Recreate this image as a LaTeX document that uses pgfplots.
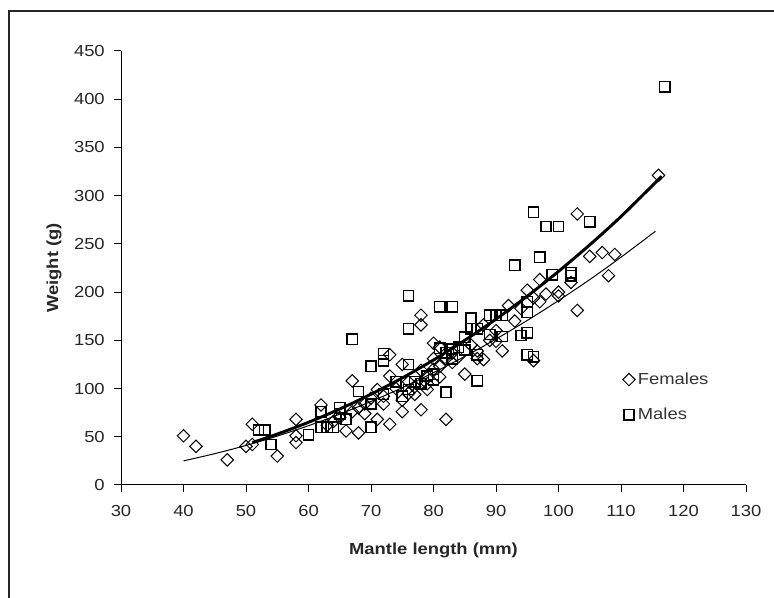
\documentclass[border=0pt]{standalone}
\usepackage{fontspec}
\setmainfont{Liberation Sans}[FakeStretch=1.15]
\usepackage{pgfplots}
\pgfplotsset{compat=1.18}
\begin{document}
\fontsize{12pt}{14pt}\selectfont
\begin{tikzpicture}
\path[use as bounding box] (0,0) rectangle (580.5pt,448.5pt);
\draw[black!85, line width=0.8pt] (6.75pt,0) -- (6.75pt,440.25pt) -- (580.5pt,440.25pt);
\begin{axis}[
    at={(90.75pt,84.75pt)}, anchor=origin,
    scale only axis,
    width=468.75pt, height=325.5pt,
    xmin=30, xmax=130, ymin=0, ymax=450,
    xtick={30,40,...,130}, ytick={0,50,...,450},
    axis lines=left,
    axis line style={-, line width=0.75pt},
    tick align=outside,
    major tick length=5pt,
    tick style={black, line width=0.75pt},
    /pgf/number format/assume math mode=true,
    ticklabel style={font=\fontsize{12pt}{14pt}\selectfont, text=black!85},
    xticklabel style={yshift=-6pt},
    yticklabel style={xshift=-3pt},
    xlabel={\bfseries Mantle length (mm)},
    ylabel={\bfseries Weight (g)},
    xlabel style={at={(axis description cs:0.5,-0.150)}, anchor=center, text=black!85},
    ylabel style={at={(axis description cs:-0.107,0.5)}, anchor=center, rotate=0, text=black!85},
    legend style={at={(axis description cs:0.796,0.272)}, anchor=north west,
        draw=none, fill=none, row sep=12pt, font=\fontsize{12pt}{14pt}\selectfont,
        text=black!80},
    legend cell align=left,
    clip=false,
]
% females (diamonds)
\addplot[only marks, mark=square, mark size=3.3pt,
    mark options={rotate=45, line width=0.75pt, black}] coordinates {
(40,51) (42,40) (47,26) (50,40) (51,63) (51,42) (55,30) (58,68) (58,44) (58,51)
(62,83) (63,62) (64,66) (65,70) (66,56) (67,108) (67,76) (68,54) (68,80) (69,74)
(69,84) (70,90) (71,68) (71,99) (72,84) (72,92) (73,63) (73,135) (73,113) (74,100)
(75,76) (75,125) (75,88) (76,107) (76,95) (77,94) (77,102) (78,78) (78,176) (78,166)
(78,119) (79,99) (79,111) (79,105) (80,147) (80,131) (80,120) (81,123) (81,143) (81,112)
(82,68) (82,131) (83,127) (83,137) (84,133) (85,115) (86,145) (87,139) (87,131) (88,130)
(88,166) (89,150) (90,149) (90,160) (91,139) (92,186) (93,170) (94,183) (95,202) (96,194)
(96,129) (97,213) (97,190) (98,198) (100,196) (100,200) (102,210) (103,281) (103,181)
(105,237) (107,241) (108,217) (109,239) (116,321)
};
\addlegendentry{Females}
% males (squares)
\addplot[only marks, mark=square, mark size=3.9pt,
    mark options={line width=1.1pt, black}] coordinates {
(52,57) (53,57) (54,42) (60,52) (62,60) (62,76) (63,60) (64,60) (65,80) (65,74)
(66,68) (67,151) (68,97) (70,123) (70,60) (70,84) (72,129) (72,136) (72,94) (74,107)
(75,92) (76,196) (76,162) (76,125) (76,99) (77,107) (78,105) (79,113) (80,109) (80,115)
(81,142) (81,185) (83,185) (82,96) (82,137) (83,141) (83,131) (84,143) (85,153) (85,140)
(86,173) (86,162) (87,162) (87,135) (87,108) (89,176) (89,156) (90,176) (91,176) (91,154)
(93,228) (94,155) (95,158) (95,179) (95,190) (95,135) (96,133) (96,283) (97,236) (98,268)
(100,268) (99,218) (102,220) (102,217) (105,273) (117,413)
};
\addlegendentry{Males}
% fitted curves
\addplot[forget plot, smooth, black, line width=0.75pt] coordinates {
(40,25) (45,32.5) (50,41.0) (55,50.7) (60,61.5) (65,73.5) (70,86.6) (75,100.9)
(80,116.5) (85,133.3) (90,151.3) (95,170.6) (100,191.2) (105,213) (110,236.2) (115.5,263)
};
\addplot[forget plot, smooth, black, line width=2.2pt] coordinates {
(51,44) (55,52.8) (60,65) (65,78.8) (70,94.1) (75,111) (80,129.6) (85,150)
(90,172) (95,195.8) (100,221.5) (105,249) (110,278.4) (116.5,320)
};
\end{axis}
\end{tikzpicture}
\end{document}
